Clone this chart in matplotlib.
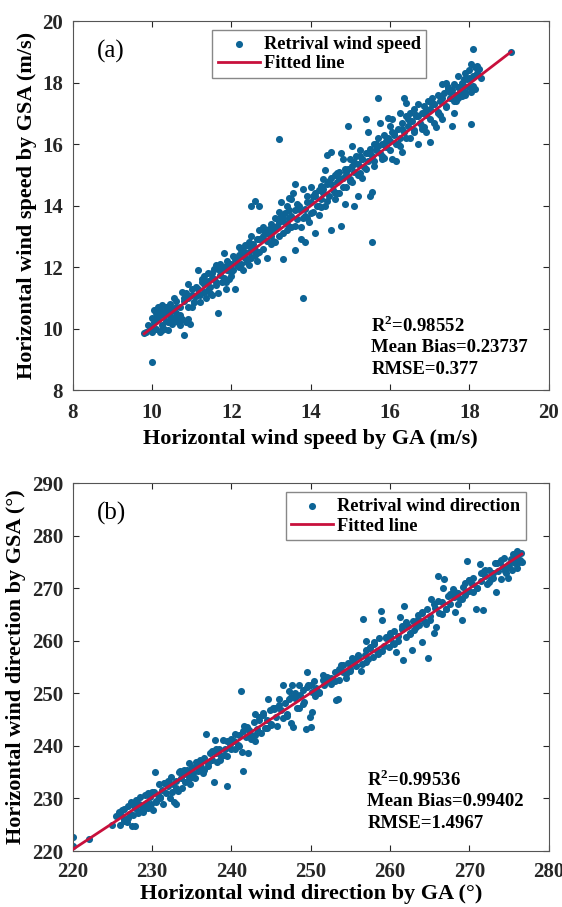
import numpy as np
import matplotlib
matplotlib.use("Agg")
import matplotlib.pyplot as plt

plt.rcParams['font.family'] = ['Liberation Serif', 'DejaVu Serif']
plt.rcParams['mathtext.fontset'] = 'custom'
plt.rcParams['mathtext.rm'] = 'Liberation Serif'
plt.rcParams['mathtext.bf'] = 'Liberation Serif:bold'

# ---------- Data ----------
# (a) horizontal wind speed, GA vs GSA (m/s)
speed_ga = [
    9.8, 9.85, 9.95, 10.0, 10.0, 10.05, 10.1, 10.1, 10.15, 10.15, 10.2, 10.2, 10.25, 10.25, 10.3, 10.3,
    10.35, 10.35, 10.4, 10.4, 10.45, 10.45, 10.5, 10.5, 10.55, 10.55, 10.6, 10.6, 10.65, 10.7, 10.7, 10.75,
    10.8, 10.8, 10.85, 10.9, 10.9, 10.95, 11.0, 11.0, 11.05, 10.0, 10.9, 10.75, 11.15,
    11.1, 11.15, 11.2, 11.25, 11.3, 11.3, 11.35, 11.4, 11.45, 11.5, 11.5, 11.55, 11.6, 11.6, 11.65, 11.65,
    11.7, 11.75, 11.8, 11.8, 11.85, 11.9, 11.95, 12.0, 12.0, 11.55, 11.4, 11.7, 11.9,
    12.05, 12.1, 12.1, 12.15, 12.2, 12.25, 12.3, 12.3, 12.35, 12.4, 12.4, 12.45, 12.5, 12.5, 12.55, 12.6,
    12.6, 12.5, 12.65, 12.65, 12.7, 12.7, 12.7, 12.75, 12.8, 12.8, 12.85, 12.9, 12.9, 12.95, 13.0, 13.0,
    12.45, 12.2, 12.35,
    13.05, 13.1, 13.1, 13.15, 13.2, 13.2, 13.25, 13.2, 13.3, 13.3, 13.35, 13.4, 13.4, 13.45, 13.5, 13.5,
    13.55, 13.6, 13.6, 13.6, 13.65, 13.7, 13.75, 13.75, 13.8, 13.8, 13.85, 13.85, 13.9, 13.9, 13.95, 14.0,
    14.0, 13.3, 13.45,
    14.05, 14.1, 14.1, 14.15, 14.2, 14.2, 14.25, 14.3, 14.3, 14.35, 14.35, 14.4, 14.4, 14.45, 14.5, 14.5,
    14.5, 14.55, 14.6, 14.6, 14.65, 14.7, 14.7, 14.75, 14.75, 14.8, 14.8, 14.85, 14.9, 14.9, 14.95, 14.95,
    15.0, 15.0, 14.25, 14.65,
    15.05, 15.05, 15.1, 15.1, 15.15, 15.2, 15.2, 15.25, 15.3, 15.3, 15.35, 15.4, 15.4, 15.45, 15.45, 15.5,
    15.5, 15.55, 15.55, 15.6, 15.6, 15.65, 15.7, 15.7, 15.75, 15.75, 15.8, 15.8, 15.85, 15.9, 15.95, 15.95,
    16.0, 16.0, 15.55, 15.25,
    16.05, 16.05, 16.1, 16.15, 16.15, 16.2, 16.25, 16.25, 16.3, 16.3, 16.35, 16.35, 16.4, 16.4, 16.45, 16.5,
    16.5, 16.55, 16.6, 16.6, 16.65, 16.7, 16.7, 16.75, 16.8, 16.8, 16.85, 16.9, 16.9, 16.95, 17.0, 17.0,
    17.05, 17.1,
    17.1, 17.15, 17.2, 17.2, 17.25, 17.3, 17.3, 17.35, 17.4, 17.45, 17.5, 17.55, 17.55, 17.6, 17.6, 17.65,
    17.7, 17.75, 17.8, 17.8, 17.85, 17.9, 17.9, 17.95, 18.0, 18.0, 18.05, 18.05, 18.1, 18.1, 18.15, 18.15,
    18.2, 18.3, 19.05, 17.4, 17.7,
    # core of the band
    9.9, 10.0, 10.1, 10.2, 10.3, 10.4, 10.5, 10.6, 10.7, 10.8, 10.9, 11.0, 11.1, 11.2, 11.3, 11.4,
    11.5, 11.6, 11.7, 11.8, 11.9, 12.0, 12.1, 12.2, 12.3, 12.4, 12.5, 12.6, 12.7, 12.8, 12.9, 13.0,
    13.1, 13.2, 13.3, 13.4, 13.5, 13.6, 13.7, 13.8, 13.9, 14.0, 14.1, 14.2, 14.3, 14.4, 14.5, 14.6,
    14.7, 14.8, 14.9, 15.0, 15.1, 15.2, 15.3, 15.4, 15.5, 15.6, 15.7, 15.8, 15.9, 16.0, 16.1, 16.2,
    16.3, 16.4, 16.5, 16.6, 16.7, 16.8, 16.9, 17.0, 17.1, 17.2, 17.3, 17.4, 17.5, 17.6, 17.7, 17.8,
    17.9, 18.0, 18.1, 18.2,
    10.05, 10.25, 10.45, 10.65, 10.85, 11.05, 11.25, 11.45, 11.65, 11.85, 12.05, 12.25, 12.45, 12.65,
    12.85, 13.05, 13.25, 13.45, 13.65, 13.85, 14.05, 14.25, 14.45, 14.65, 14.85, 15.05, 15.25, 15.45,
    15.65, 15.85, 16.05, 16.25, 16.45, 16.65, 16.85, 17.05, 17.25, 17.45, 17.65, 17.85, 18.05, 18.25,
]
speed_gsa = [
    9.85, 9.9, 10.05, 10.35, 9.95, 10.2, 10.5, 10.0, 10.7, 10.3, 10.6, 9.9, 10.75, 10.1, 10.45, 10.0,
    10.7, 10.25, 10.55, 9.95, 10.4, 10.8, 10.6, 10.15, 10.3, 11.0, 10.5, 10.9, 10.2, 10.7, 10.1, 10.3,
    9.8, 10.9, 10.2, 11.0, 10.3, 10.15, 11.3, 10.7, 10.85, 8.9, 11.45, 11.2, 11.9,
    11.05, 11.3, 10.85, 11.5, 11.2, 11.7, 11.0, 11.55, 11.35, 11.8, 11.1, 11.6, 11.4, 12.05, 10.5, 11.15,
    11.75, 11.5, 12.0, 12.45, 11.3, 11.9, 11.6, 12.1, 11.7, 11.95, 11.8, 12.1, 12.2,
    11.9, 12.3, 11.3, 12.05, 12.4, 12.1, 12.55, 11.9, 12.3, 12.7, 12.15, 12.5, 13.0, 12.3, 12.75, 12.55,
    14.15, 14.0, 12.9, 12.2, 14.0, 13.2, 12.5, 12.9, 13.3, 12.6, 13.1, 12.3, 12.85, 13.25, 13.0, 13.4,
    12.05, 12.65, 12.7,
    13.2, 13.6, 12.8, 13.35, 13.8, 13.0, 14.1, 16.15, 12.25, 13.5, 13.75, 13.4, 14.0, 13.6, 14.2, 13.3,
    14.4, 14.7, 12.55, 13.85, 13.55, 14.0, 13.3, 12.9, 14.55, 11.0, 12.8, 13.9, 14.3, 13.6, 13.45, 14.1,
    14.6, 13.1, 14.25,
    13.8, 14.3, 13.1, 14.0, 14.5, 13.7, 14.2, 14.85, 14.4, 15.15, 14.0, 15.65, 14.7, 14.3, 15.75, 13.2,
    14.9, 14.5, 14.2, 15.0, 14.75, 15.1, 14.4, 13.35, 15.7, 14.9, 15.5, 14.05, 15.0, 14.6, 16.6, 15.2,
    15.5, 14.85, 14.65, 15.05,
    15.3, 15.95, 14.0, 15.1, 15.6, 14.3, 15.35, 15.8, 14.9, 15.5, 15.25, 16.8, 15.7, 15.45, 16.4, 14.3,
    15.85, 15.6, 12.8, 16.0, 15.3, 15.8, 17.5, 16.2, 16.7, 15.7, 16.0, 15.5, 16.3, 15.9, 16.85, 16.2,
    16.1, 16.6, 14.45, 15.05,
    16.8, 15.5, 16.3, 16.0, 15.45, 16.5, 17.0, 16.2, 16.7, 15.75, 17.5, 16.4, 17.35, 16.9, 16.6, 16.2,
    17.0, 16.75, 17.15, 16.45, 16.9, 16.0, 17.3, 16.7, 17.0, 16.5, 17.25, 16.4, 16.95, 17.4, 17.15, 16.05,
    17.5, 16.7,
    17.3, 16.55, 17.6, 17.05, 17.4, 17.95, 16.8, 17.65, 17.25, 17.8, 17.5, 16.6, 17.75, 17.95, 17.0, 17.6,
    17.85, 17.7, 18.0, 17.55, 17.9, 18.3, 17.7, 18.1, 17.85, 18.4, 18.6, 16.65, 19.1, 18.2, 17.8, 18.5,
    18.55, 18.15, 19.0, 18.0, 18.2,
    # core of the band
    10.1, 9.9, 10.35, 10.45, 10.55, 10.2, 10.35, 10.7, 10.45, 11.0, 10.7, 11.1, 11.35, 11.1, 11.45, 11.25,
    11.65, 11.5, 11.9, 11.65, 12.05, 11.85, 12.25, 12.0, 12.45, 12.25, 12.65, 12.4, 12.9, 13.0, 13.1, 12.75,
    13.3, 13.45, 13.6, 13.2, 13.65, 13.35, 13.9, 13.6, 14.1, 13.75, 14.4, 14.0, 14.55, 14.15, 14.7, 14.4,
    14.9, 14.6, 15.1, 14.8, 15.4, 15.0, 15.5, 15.2, 15.7, 15.45, 15.95, 15.6, 16.1, 15.8, 16.35, 16.0,
    16.5, 16.2, 16.75, 16.4, 16.9, 16.6, 17.1, 16.8, 17.3, 17.0, 17.5, 17.2, 17.7, 17.4, 17.5, 17.95,
    17.6, 18.15, 17.9, 18.3,
    10.6, 9.95, 10.7, 10.4, 11.15, 10.85, 11.6, 11.15, 11.95, 11.5, 12.35, 12.55, 12.8, 12.45,
    13.15, 12.85, 13.65, 13.85, 14.05, 13.65, 14.3, 13.95, 14.8, 14.4, 15.2, 14.75, 15.6, 15.7,
    16.0, 15.55, 16.4, 15.95, 16.8, 16.95, 16.55, 17.3, 16.95, 17.85, 17.4, 18.1, 17.7, 18.45,
]
fit_speed_x = [9.8, 19.05]
fit_speed_y = [9.83, 19.0]
stats_speed = ["0.98552", "0.23737", "0.377"]

# (b) horizontal wind direction, GA vs GSA (deg)
dir_ga = [
    220, 220, 222, 225, 225.8, 226, 226.2, 226.5, 226.8, 227, 227.2, 227.5, 227.8, 227.3, 227.6, 227.9,
    228, 228.2, 228.5, 228.7, 228.9, 229.1, 229.3, 229.5, 229.7, 229.9, 230.1, 230.3, 230.4, 230.5, 230.7,
    230.9, 226.4, 228.4,
    231, 231.2, 231.4, 231.6, 231.8, 232, 232.2, 232.4, 232.6, 232.8, 233, 233.2, 233.4, 233.6, 233.8, 234,
    234.2, 234.4, 234.6, 234.8, 235, 235.2, 235.4, 235.6, 235.8, 236, 236.2, 236.4, 236.6, 236.8, 237,
    237.3, 237.5, 237.8, 238, 238.2, 238.4, 238.7, 238.9, 239.2, 239.5, 239.5, 239.8, 240, 233.0, 234.6,
    237.9,
    240.3, 240.5, 240.8, 241, 241.2, 241.3, 241.5, 241.6, 241.8, 242.1, 242.2, 242.5, 242.8, 243, 243.2,
    243.5, 243.7, 244, 244.2, 244.5, 244.6, 244.8, 245, 245.3, 245.6, 245.8, 246, 246.2, 246.5, 246.7, 247,
    247.2, 247.5, 247.6, 247.8, 248, 248.2, 248.5, 248.7, 249, 249.2, 249.4, 249.5, 249.7, 249.9, 250,
    250.1, 250.2, 245.4, 243.0, 247.3,
    250.4, 250.7, 251, 251.5, 251.7, 252, 252.5, 253, 253.2, 253.4, 253.5, 253.8, 254, 254.4, 254.7, 255,
    255.4, 255.7, 256, 256.3, 256.6, 256.8, 256.9, 257.2, 257.5, 257.8, 258, 258.3, 258.6, 258.9, 259,
    259.2, 259.5, 259.8, 260, 255.2, 257.0,
    260.3, 260.5, 260.7, 261, 261.2, 261.5, 261.6, 261.8, 262, 262.3, 262.5, 262.7, 262.9, 263.2, 263.5,
    263.7, 264, 264, 264.3, 264.6, 264.8, 265, 265.2, 265.5, 265.6, 265.8, 266, 266.2, 266.5, 266.8, 267,
    267.3, 267.6, 267.9, 268.2, 268.5, 268.8, 269, 269.2, 269.5, 269.7, 269.9, 270, 266.7, 268.0,
    270.3, 270.5, 270.8, 271, 271.3, 271.5, 271.7, 272, 272.2, 272.5, 272.7, 273, 273.2, 273.4, 273.6,
    273.8, 274, 274.2, 274.4, 274.6, 274.8, 275, 275.2, 275.4, 275.6, 275.8, 276, 276, 276.3, 276.5, 276.6,
    271.8,
    # core of the band
    225.5, 226.5, 227.5, 228.5, 229.5, 230.5, 231.5, 232.5, 233.5, 234.5, 235.5, 236.5, 237.5, 238.5,
    239.5, 240.5, 241.5, 242.5, 243.5, 244.5, 245.5, 246.5, 247.5, 248.5, 249.5, 250.5, 251.5, 252.5,
    253.5, 254.5, 255.5, 256.5, 257.5, 258.5, 259.5, 260.5, 261.5, 262.5, 263.5, 264.5, 265.5, 266.5,
    267.5, 268.5, 269.5, 270.5, 271.5, 272.5, 273.5, 274.5, 275.5, 276.2,
    226, 227, 228, 229, 230, 231, 232, 233, 234, 235, 236, 237, 238, 239, 240, 241, 242, 243, 244, 245,
    246, 247, 248, 249, 250, 251, 252, 253, 254, 255, 256, 257, 258, 259, 260, 261, 262, 263, 264, 265,
    266, 267, 268, 269, 270, 271, 272, 273, 274, 275, 276, 276.4,
]
dir_gsa = [
    222.6, 220.9, 222.2, 225, 227.4, 225, 227.8, 226, 225.5, 228.5, 227, 224.7, 224.8, 229.3, 226.8, 228.2,
    229.8, 227.3, 230.2, 228.6, 227.5, 230.7, 229.2, 228.1, 230.3, 229.0, 227.9, 231.2, 235.1, 229.6, 230.6,
    232.7, 228.0, 228.9,
    230.2, 231.6, 229.0, 233.0, 231.1, 232.3, 230.0, 234.0, 232.7, 229.3, 233.4, 231.5, 235.0, 233.8, 232.0,
    234.6, 233.2, 235.5, 234.0, 232.8, 236.0, 234.8, 233.9, 236.4, 235.3, 237.2, 236.0, 234.9, 237.7, 242.2,
    236.8, 238.6, 237.3, 233.1, 238.6, 237.0, 239.5, 238.1, 241.1, 239.4, 232.4, 238.1, 240.4, 239.5, 229.0,
    236.8, 241.2,
    241.0, 242.3, 240.2, 242.0, 250.5, 238.8, 235.2, 243.8, 241.6, 238.6, 243.0, 242.0, 244.5, 241.0, 243.2,
    245.5, 242.5, 246.2, 243.5, 245.0, 248.9, 246.8, 244.2, 247.3, 245.5, 243.8, 249.0, 246.8, 251.6, 248.2,
    245.6, 250.5, 244.3, 251.5, 243.6, 249.2, 247.2, 251.5, 249.7, 250.6, 248.3, 243.2, 254.1, 251.6, 245.5,
    243.6, 246.5, 250.3, 247.0, 246.1, 248.9,
    252.3, 251.0, 250.0, 253.5, 251.5, 252.4, 252.9, 254.0, 248.7, 249.0, 252.6, 255.4, 254.0, 252.9, 255.8,
    254.6, 256.0, 255.2, 257.1, 254.2, 264.2, 257.3, 260.0, 256.5, 258.6, 257.0, 259.8, 258.0, 260.5, 265.7,
    263.9, 259.0, 260.5, 258.8, 261.0, 256.7, 258.2,
    259.5, 261.8, 257.8, 261.0, 264.6, 262.3, 256.3, 266.7, 260.7, 262.8, 261.4, 258.3, 263.8, 262.6, 264.2,
    263.0, 259.7, 265.3, 263.7, 266.0, 256.8, 264.7, 268.0, 261.4, 266.2, 262.6, 272.4, 265.3, 267.3, 271.7,
    266.0, 268.5, 267.0, 269.8, 265.5, 269.0, 267.9, 264.0, 270.2, 268.8, 275.2, 271.5, 269.4, 270.0, 268.3,
    270.8, 272.0, 266.0, 270.1, 274.6, 271.3, 265.8, 272.4, 270.8, 273.5, 271.8, 272.9, 274.8, 269.3, 273.2,
    275.0, 271.8, 274.0, 275.7, 272.9, 272.0, 274.6, 275.5, 273.5, 275.9, 274.7, 276.0, 273.8, 275.2, 276.7,
    275.0, 273.2,
    # core of the band
    226.6, 225.8, 229.0, 227.6, 231.0, 229.3, 233.0, 231.3, 235.2, 233.4, 236.9, 235.5, 239.0, 237.4,
    241.0, 239.4, 242.9, 241.3, 245.0, 243.4, 247.2, 245.3, 249.3, 247.2, 251.2, 249.5, 252.6, 251.7,
    254.6, 253.7, 256.6, 255.6, 258.8, 257.5, 260.8, 259.3, 262.9, 261.2, 264.9, 263.2, 266.9, 265.1,
    268.9, 267.0, 270.9, 269.2, 272.8, 271.2, 274.7, 273.2, 276.5, 274.9,
    227.0, 226.3, 229.3, 228.0, 231.3, 230.0, 233.3, 232.0, 235.5, 234.0, 237.4, 236.2, 239.5, 238.2,
    241.4, 240.0, 243.6, 242.0, 245.8, 244.0, 247.8, 246.0, 250.0, 248.0, 251.6, 250.3, 253.2, 252.4,
    255.3, 254.2, 257.3, 256.0, 259.4, 258.1, 261.4, 260.0, 263.5, 262.0, 265.5, 264.0, 267.6, 266.0,
    269.5, 268.0, 271.5, 270.0, 273.5, 272.0, 275.3, 274.0, 277.0, 275.4,
]
fit_dir_x = [220.0, 276.6]
fit_dir_y = [220.3, 276.5]
stats_dir = ["0.99536", "0.99402", "1.4967"]

dot_color = "#0d6496"
line_color = "#c8103c"

# ---------- Plotting ----------
fig = plt.figure(figsize=(5.62, 9.07), dpi=100)
ax1 = fig.add_axes([0.1295, 0.570, 0.847, 0.4068])
ax2 = fig.add_axes([0.1295, 0.0617, 0.847, 0.4057])


def style_axes(ax, xlim, ylim, ticks_x, ticks_y, xpad):
    ax.set_xlim(xlim)
    ax.set_ylim(ylim)
    ax.set_xticks(ticks_x)
    ax.set_yticks(ticks_y)
    ax.tick_params(direction='in', top=True, right=True, length=4, width=0.8,
                   labelsize=15, colors='#262626', pad=7)
    ax.tick_params(axis='x', pad=xpad)
    for lab in ax.get_xticklabels() + ax.get_yticklabels():
        lab.set_fontweight('bold')
    for sp in ax.spines.values():
        sp.set_color('#555555')
        sp.set_linewidth(0.8)


def add_legend(ax, anchor):
    ax.legend(loc='upper left', bbox_to_anchor=anchor, fancybox=False, edgecolor='#888888',
              framealpha=1, prop={'weight': 'bold', 'size': 13.2}, handlelength=2.3,
              borderpad=0.3, labelspacing=0.15, handletextpad=0.2, borderaxespad=0)


# (a)
ax1.scatter(speed_ga, speed_gsa, s=26, color=dot_color, linewidths=0, label="Retrival wind speed", zorder=2)
ax1.plot(fit_speed_x, fit_speed_y, color=line_color, lw=2, label="Fitted line", zorder=3)
style_axes(ax1, (8, 20), (8, 20), range(8, 21, 2), range(8, 21, 2), 9)
ax1.set_xlabel("Horizontal wind speed by GA (m/s)", fontsize=16, fontweight='bold', labelpad=5)
ax1.set_ylabel("Horizontal wind speed by GSA (m/s)", fontsize=16, fontweight='bold', labelpad=4)
ax1.text(0.05, 0.917, "(a)", transform=ax1.transAxes, fontsize=18, va='center')
add_legend(ax1, (0.293, 0.9756))
for i, txt in enumerate([r"R$^{\mathbf{2}}$=" + stats_speed[0], "Mean Bias=" + stats_speed[1],
                         "RMSE=" + stats_speed[2]]):
    ax1.text(0.6275, 0.174 - i * 0.0595, txt, transform=ax1.transAxes, fontsize=13.5,
             fontweight='bold', va='center')

# (b)
ax2.scatter(dir_ga, dir_gsa, s=26, color=dot_color, linewidths=0, label="Retrival wind direction", zorder=2)
ax2.plot(fit_dir_x, fit_dir_y, color=line_color, lw=2, label="Fitted line", zorder=3)
style_axes(ax2, (220, 280), (220, 290), range(220, 281, 10), range(220, 291, 10), 8)
ax2.set_xlabel("Horizontal wind direction by GA (°)", fontsize=16, fontweight='bold', labelpad=1)
ax2.set_ylabel("Horizontal wind direction by GSA (°)", fontsize=16, fontweight='bold', labelpad=4)
ax2.text(0.05, 0.918, "(b)", transform=ax2.transAxes, fontsize=18, va='center')
add_legend(ax2, (0.4475, 0.975))
for i, txt in enumerate([r"R$^{\mathbf{2}}$=" + stats_dir[0], "Mean Bias=" + stats_dir[1],
                         "RMSE=" + stats_dir[2]]):
    ax2.text(0.619, 0.193 - i * 0.0595, txt, transform=ax2.transAxes, fontsize=13.5,
             fontweight='bold', va='center')

fig.savefig("out.png", dpi=100)
